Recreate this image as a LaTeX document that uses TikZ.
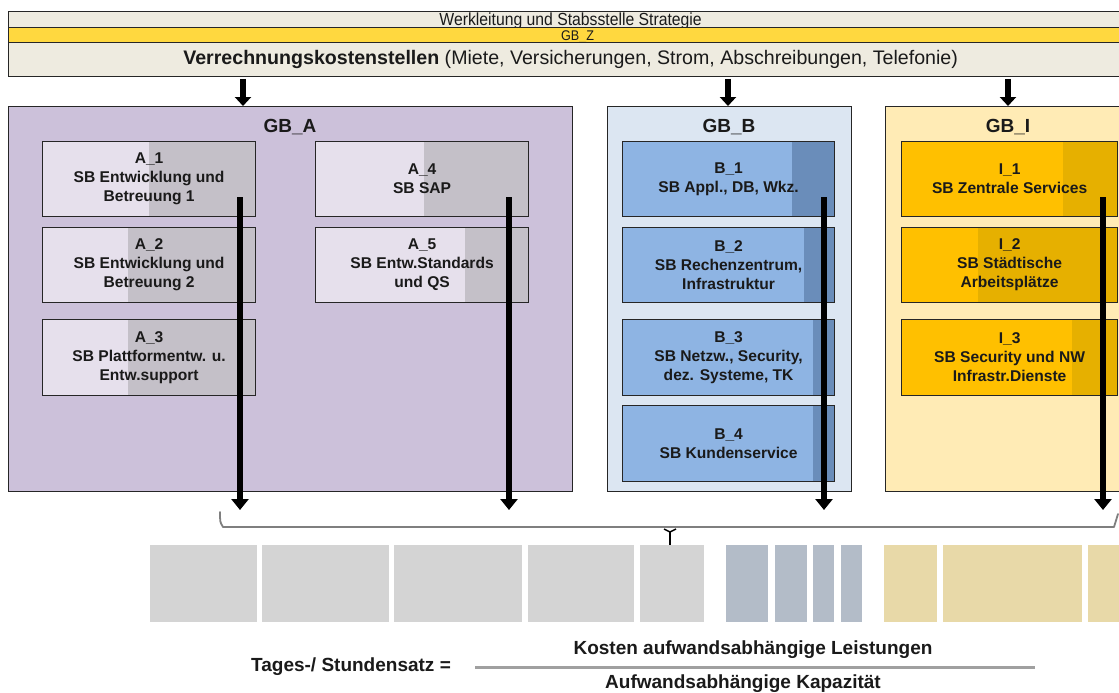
\documentclass[tikz,border=0pt]{standalone}
\usepackage{fontspec}
\setmainfont{Liberation Sans}
\newfontfamily\narrowfont[FakeStretch=0.9]{Liberation Sans}
\usetikzlibrary{arrows.meta,calc}
\definecolor{bandc}{HTML}{EEEBE0}
\definecolor{zyellow}{HTML}{FFD83F}
\definecolor{gbA}{HTML}{CCC1DA}
\definecolor{aLight}{HTML}{E6E0EC}
\definecolor{aDark}{HTML}{C4C0C8}
\definecolor{gbB}{HTML}{DCE6F2}
\definecolor{bLight}{HTML}{8EB4E3}
\definecolor{bDark}{HTML}{6A8DBA}
\definecolor{gbI}{HTML}{FFEBB5}
\definecolor{iLight}{HTML}{FFC000}
\definecolor{iDark}{HTML}{E6B000}
\definecolor{blkGray}{HTML}{D4D4D4}
\definecolor{blkBlue}{HTML}{B3BCC8}
\definecolor{blkTan}{HTML}{E8D9A8}
\definecolor{braceC}{HTML}{7F7F7F}
\definecolor{fracC}{HTML}{A0A0A0}
\definecolor{txt}{HTML}{1A1A1A}
\tikzset{
  band/.style={draw=black!85, line width=1.2pt, anchor=north west, inner sep=0pt, minimum width=1114pt, text=txt},
  grp/.style={draw=black!85, line width=1.2pt, anchor=north west, inner sep=0pt, minimum height=385pt},
  glabel/.style={font=\bfseries\fontsize{19}{21}\selectfont, text=txt, inner sep=0pt},
  sub/.style={draw=black!85, line width=1.2pt, anchor=north west, inner sep=0pt,
    minimum width=213pt, minimum height=75pt, align=center,
    font=\bfseries\fontsize{15.6}{19}\selectfont, text=txt},
  shade split/.style 2 args={path picture={\fill[#1]
    ($(path picture bounding box.south west)!#2!(path picture bounding box.south east)$)
    rectangle (path picture bounding box.north east);}},
  bigarrow/.style={line width=6pt, -{Triangle[width=17pt,length=11pt]}},
  smallarrow/.style={line width=6pt, -{Triangle[width=16pt,length=9pt]}},
  ftext/.style={font=\bfseries\fontsize{19}{22}\selectfont, text=txt, inner sep=0pt},
}
\begin{document}
\begin{tikzpicture}[x=1pt,y=-1pt]
\useasboundingbox (0,0) rectangle (1119,693);
\fill[white] (0,0) rectangle (1119,693);

% top band
\node[band, fill=bandc, minimum height=16pt, font=\narrowfont\fontsize{17.5}{18}\selectfont, text height=11.5pt, text depth=0pt] (wl) at (8,11) {\hspace*{10pt}Werkleitung und Stabsstelle Strategie};
\node[band, fill=zyellow, minimum height=15pt, font=\narrowfont\fontsize{14}{14}\selectfont, text height=10pt, text depth=0pt] (gbz) at (8,27) {\hspace*{24pt}GB\_Z};
\node[band, fill=bandc, minimum height=34pt, font=\fontsize{19.6}{21}\selectfont] (vks) at (8,42) {\hspace*{10pt}\textbf{Verrechnungskostenstellen} (Miete, Versicherungen, Strom, Abschreibungen, Telefonie)};

% groups
\node[grp, fill=gbA, minimum width=564pt] (gba) at (8,106) {};
\node[grp, fill=gbB, minimum width=244pt] (gbb) at (607,106) {};
\node[grp, fill=gbI, minimum width=240pt] (gbi) at (885,106) {};
\node[glabel] (gbalab) at (290,127) {GB\_A};
\node[glabel] (gbblab) at (729,127) {GB\_B};
\node[glabel] (gbilab) at (1008,127) {GB\_I};

% small arrows
\coordinate (ta) at (243,79);
\coordinate (tb) at (728,79);
\coordinate (ti) at (1008,79);
\draw[smallarrow] (ta) -- (ta |- gba.north);
\draw[smallarrow] (tb) -- (tb |- gbb.north);
\draw[smallarrow] (ti) -- (ti |- gbi.north);

% A boxes
\node[sub, fill=aLight, shade split={aDark}{0.5}] (a1) at (42,141) {A\_1\\SB Entwicklung und\\Betreuung 1};
\node[sub, fill=aLight, shade split={aDark}{0.4}] (a2) at (42,227) {A\_2\\SB Entwicklung und\\Betreuung 2};
\node[sub, fill=aLight, shade split={aDark}{0.4}, minimum height=76pt] (a3) at (42,319) {A\_3\\SB Plattformentw. u.\\Entw.support};
\node[sub, fill=aLight, shade split={aDark}{0.51}] (a4) at (315,141) {A\_4\\SB SAP};
\node[sub, fill=aLight, shade split={aDark}{0.70}] (a5) at (315,227) {A\_5\\SB Entw.Standards\\und QS};

% B boxes
\node[sub, fill=bLight, shade split={bDark}{0.80}, minimum width=212pt] (b1) at (622,141) {B\_1\\SB Appl., DB, Wkz.};
\node[sub, fill=bLight, shade split={bDark}{0.855}, minimum width=212pt] (b2) at (622,227) {B\_2\\SB Rechenzentrum,\\Infrastruktur};
\node[sub, fill=bLight, shade split={bDark}{0.90}, minimum width=212pt, minimum height=76pt] (b3) at (622,319) {B\_3\\SB Netzw., Security,\\dez. Systeme, TK};
\node[sub, fill=bLight, shade split={bDark}{0.90}, minimum width=212pt, minimum height=76pt] (b4) at (622,405) {B\_4\\SB Kundenservice};

% I boxes
\node[sub, fill=iLight, shade split={iDark}{0.745}, minimum width=216pt] (i1) at (901,141) {I\_1\\SB Zentrale Services};
\node[sub, fill=iLight, shade split={iDark}{0.355}, minimum width=216pt] (i2) at (901,227) {I\_2\\SB Städtische\\Arbeitsplätze};
\node[sub, fill=iLight, shade split={iDark}{0.79}, minimum width=216pt, minimum height=76pt] (i3) at (901,319) {I\_3\\SB Security und NW\\Infrastr.Dienste};

% long arrows
\coordinate (sa) at (240,197);
\coordinate (ea) at (240,510);
\coordinate (sa4) at (509,197);
\coordinate (ea4) at (509,510);
\coordinate (sb) at (824,197);
\coordinate (eb) at (824,510);
\coordinate (si) at (1103,197);
\coordinate (ei) at (1103,510);
\draw[bigarrow] (sa) -- (ea);
\draw[bigarrow] (sa4) -- (ea4);
\draw[bigarrow] (sb) -- (eb);
\draw[bigarrow] (si) -- (ei);

% brace
\coordinate (brL) at (220,512);
\coordinate (brR) at (1118,514);
\coordinate (brT) at (670,545);
\draw[braceC, line width=1.8pt, line cap=round, line join=round] (brL) .. controls (220,522) .. (223,527) -- (1114,527) -- (brR);
\draw[black, line width=1.4pt] (664,529) -- (670,532) -- (676,529);
\draw[black, line width=1.6pt] (670,532) -- (brT);

% bottom blocks
\fill[blkGray] (150,545) rectangle (257,622);
\fill[blkGray] (262,545) rectangle (389,622);
\fill[blkGray] (394,545) rectangle (522,622);
\fill[blkGray] (528,545) rectangle (634,622);
\fill[blkGray] (640,545) rectangle (704,622);
\fill[blkBlue] (726,545) rectangle (768,622);
\fill[blkBlue] (775,545) rectangle (807,622);
\fill[blkBlue] (813,545) rectangle (834,622);
\fill[blkBlue] (841,545) rectangle (862,622);
\fill[blkTan] (884,545) rectangle (937,622);
\fill[blkTan] (943,545) rectangle (1082,622);
\fill[blkTan] (1088,545) rectangle (1125,622);

% formula
\node[ftext] (lhs) at (351,667) {Tages-/ Stundensatz =};
\node[ftext] (num) at (753,650) {Kosten aufwandsabhängige Leistungen};
\node[ftext] (den) at (743,684) {Aufwandsabhängige Kapazität};
\coordinate (fl) at (475,667);
\coordinate (fr) at (1035,667);
\draw[fracC, line width=3pt] (fl) -- (fr);
\end{tikzpicture}
\end{document}
